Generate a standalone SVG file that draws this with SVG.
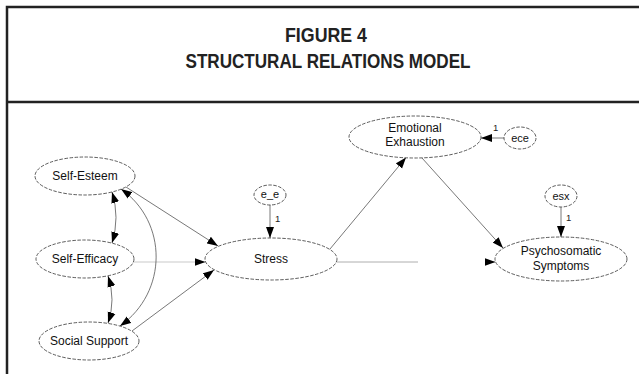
<svg xmlns="http://www.w3.org/2000/svg" width="639" height="374" viewBox="0 0 639 374">
<style>
.frame{fill:none;stroke:#222;stroke-width:2.5}
.title{font-family:"Liberation Sans",Arial,sans-serif;font-weight:bold;font-size:21px;fill:#222;text-anchor:middle}
.node ellipse{fill:#fff;stroke:#333;stroke-width:0.8;stroke-dasharray:3.5 1.5}
.node text{font-family:"Liberation Sans",Arial,sans-serif;font-size:12px;fill:#111;text-anchor:middle}
.err text{font-size:11px}
.c{fill:none;stroke:#555;stroke-width:0.8}
.lt{stroke:#bbb}
.md{stroke:#999}
.one{font-family:"Liberation Sans",Arial,sans-serif;font-size:9.5px;fill:#222}
</style>
<defs>
<marker id="ah" markerUnits="userSpaceOnUse" markerWidth="12" markerHeight="9" refX="11" refY="4" orient="auto-start-reverse" viewBox="0 0 12 8">
<path d="M0,0 L11,4 L0,8 Z" fill="#000"/>
</marker>
</defs>
<rect width="639" height="374" fill="#fff"/>
<g id="frame">
<rect class="frame" x="7" y="7" width="660" height="420"/>
<line class="frame" x1="7" y1="102" x2="660" y2="102"/>
<text class="title" x="326" y="42" textLength="82" lengthAdjust="spacingAndGlyphs">FIGURE 4</text>
<text class="title" x="328" y="68" textLength="285" lengthAdjust="spacingAndGlyphs">STRUCTURAL RELATIONS MODEL</text>
</g>
<g id="connectors">
<path class="c" d="M126,187 L218,246" marker-end="url(#ah)"/>
<path class="c lt" d="M134,262 L205.5,262" marker-end="url(#ah)"/>
<path class="c" d="M132,331 L214,270" marker-end="url(#ah)"/>
<path class="c" d="M330,249 L406,157.5" marker-end="url(#ah)"/>
<path class="c" d="M422,158 L503,248" marker-end="url(#ah)"/>
<path class="c md" d="M337,262 L418,262"/>
<path class="c md" d="M485,262 L495.5,262" marker-end="url(#ah)"/>
<path class="c" d="M270,205 L270,238" marker-end="url(#ah)"/>
<path class="c" d="M504,138 L481,138" marker-end="url(#ah)"/>
<path class="c" d="M561,207 L561,237" marker-end="url(#ah)"/>
<path class="c" d="M112,192 Q120,217.5 112,243" marker-start="url(#ah)" marker-end="url(#ah)"/>
<path class="c" d="M108,276 Q116,300 108,323" marker-start="url(#ah)" marker-end="url(#ah)"/>
<path class="c" d="M121,189 C168,222 168,292 120,326" marker-start="url(#ah)" marker-end="url(#ah)"/>
<text class="one" x="275" y="222">1</text>
<text class="one" x="493" y="131">1</text>
<text class="one" x="566" y="221">1</text>
</g>
<g id="self-esteem" class="node"><ellipse cx="85" cy="176" rx="50" ry="19"/><text x="85" y="180">Self-Esteem</text></g>
<g id="self-efficacy" class="node"><ellipse cx="85" cy="259" rx="49" ry="19"/><text x="85" y="263">Self-Efficacy</text></g>
<g id="social-support" class="node"><ellipse cx="89" cy="341" rx="50" ry="19"/><text x="89" y="345">Social Support</text></g>
<g id="stress" class="node"><ellipse cx="271" cy="259" rx="66" ry="21"/><text x="271" y="263">Stress</text></g>
<g id="e_e" class="node err"><ellipse cx="270" cy="195" rx="16" ry="10"/><text x="270" y="198">e_e</text></g>
<g id="emotional-exhaustion" class="node"><ellipse cx="415" cy="137" rx="66" ry="21"/><text x="415" y="132">Emotional</text><text x="415" y="146">Exhaustion</text></g>
<g id="ece" class="node err"><ellipse cx="520" cy="138" rx="16" ry="11"/><text x="520" y="142">ece</text></g>
<g id="esx" class="node err"><ellipse cx="561" cy="196" rx="16" ry="11"/><text x="561" y="200">esx</text></g>
<g id="psychosomatic-symptoms" class="node"><ellipse cx="561" cy="259" rx="66" ry="22"/><text x="561" y="255">Psychosomatic</text><text x="561" y="270">Symptoms</text></g>
</svg>
